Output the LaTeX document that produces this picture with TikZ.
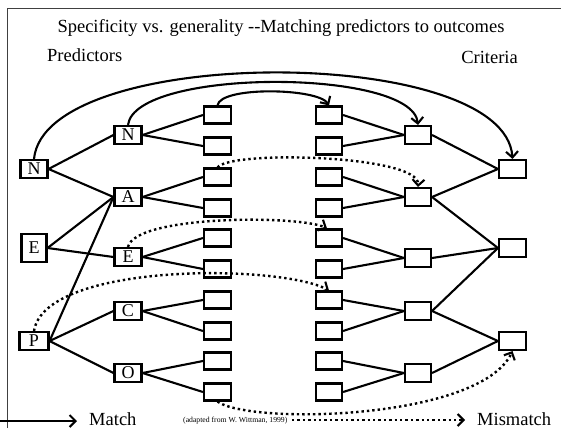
\documentclass[tikz,border=0pt]{standalone}
\usepackage{fontspec}
\setmainfont{Liberation Serif}
\usetikzlibrary{arrows.meta}
\begin{document}
\begin{tikzpicture}[x=1pt,y=-1pt,
 box/.style={draw, line width=2.3pt, minimum width=26.8pt, minimum height=17.8pt, inner sep=0pt, font=\fontsize{18}{18}\selectfont},
 sbox/.style={draw, line width=2.3pt, minimum width=26.8pt, minimum height=16.8pt, inner sep=0pt},
 edge/.style={line width=2.1pt},
 match/.style={line width=2.1pt, -{Straight Barb[length=6pt,width=12pt,line width=2.1pt]}},
 mismatch/.style={line width=2.4pt, dash pattern=on 2.4pt off 3pt, -{Straight Barb[length=6pt,width=12pt,line width=2.1pt]}},
 lbl/.style={font=\fontsize{18.5}{20}\selectfont, inner sep=0pt}
]
\useasboundingbox (0,0) rectangle (561,428);
\draw[line width=1pt, black!75] (7,428) -- (7,9) -- (561,9);

\node[lbl] (title) at (281,28) {Specificity vs. generality -{}-Matching predictors to outcomes};
\node[lbl, anchor=west] (pred) at (47,55) {Predictors};
\node[lbl, anchor=east] (crit) at (518,57) {Criteria};

% column 1
\node[box] (N1) at (34,169) {N};
\node[box, minimum width=24.8pt, minimum height=27.8pt] (E1) at (34,248) {E};
\node[box, minimum width=28.8pt] (P1) at (34,341) {P};
% column 2
\node[box] (N2) at (128,135) {N};
\node[box] (A2) at (128,197) {A};
\node[box] (E2) at (128,257) {E};
\node[box] (C2) at (128,311) {C};
\node[box] (O2) at (128,373) {O};
% columns 3 and 4
\foreach \i/\y in {1/115,2/146,3/177,4/208,5/238,6/269,7/300,8/331,9/361,10/392} {
  \node[sbox] (c\i) at (217.5,\y) {};
  \node[sbox, minimum width=25.8pt] (d\i) at (329,\y) {};
}
% column 5
\node[box, minimum width=25.8pt] (g1) at (418,135) {};
\node[box, minimum width=25.8pt] (g2) at (418,197) {};
\node[box, minimum width=25.8pt] (g3) at (418,258) {};
\node[box, minimum width=25.8pt] (g4) at (418,311) {};
\node[box, minimum width=25.8pt] (g5) at (418,373) {};
% column 6
\node[box] (h1) at (512.5,169) {};
\node[box] (h2) at (512.5,248) {};
\node[box] (h3) at (512.5,341) {};

% solid tree edges
\foreach \a/\b in {N1/N2,N1/A2,E1/A2,E1/E2,P1/A2,P1/C2,P1/O2,
  N2/c1,N2/c2,A2/c3,A2/c4,E2/c5,E2/c6,C2/c7,C2/c8,O2/c9,O2/c10,
  d1/g1,d2/g1,d3/g2,d4/g2,d5/g3,d6/g3,d7/g4,d8/g4,d9/g5,d10/g5,
  g1/h1,g2/h1,g2/h2,g3/h2,g4/h2,g4/h3,g5/h3}
  \draw[edge] (\a.east) -- (\b.west);

% match arcs
\draw[match] (N1.north) .. controls (45,44) and (505,44) .. (h1.north);
\draw[match] (N2.north) .. controls (135,68) and (412,68) .. (g1.north);
\draw[match] (c1.north) .. controls (220,86) and (318,88) .. (d1.north);

% mismatch arcs
\draw[mismatch] (c3.north) .. controls (230,150) and (420,155) .. (g2.north);
\draw[mismatch] (E2.north) .. controls (135,215) and (300,215) .. ([xshift=-2pt]d5.north);
\draw[mismatch] (P1.north) .. controls (45,262) and (280,264) .. (d7.north);
\draw[mismatch] (c10.south) .. controls (250,425) and (480,420) .. (h3.south);

% legend
\coordinate (m0) at (0,421);
\coordinate (m1) at (77,421);
\draw[match] (m0) -- (m1);
\node[lbl, anchor=west] (mt) at (89,419) {Match};
\node[font=\fontsize{7.7}{8}\selectfont, anchor=west, inner sep=0pt] (src) at (183,421) {(adapted from W. Wittman, 1999)};
\coordinate (x0) at (292,420);
\coordinate (x1) at (465,420);
\draw[mismatch] (x0) -- (x1);
\node[lbl, anchor=west] (mmt) at (477,419) {Mismatch};
\end{tikzpicture}
\end{document}
